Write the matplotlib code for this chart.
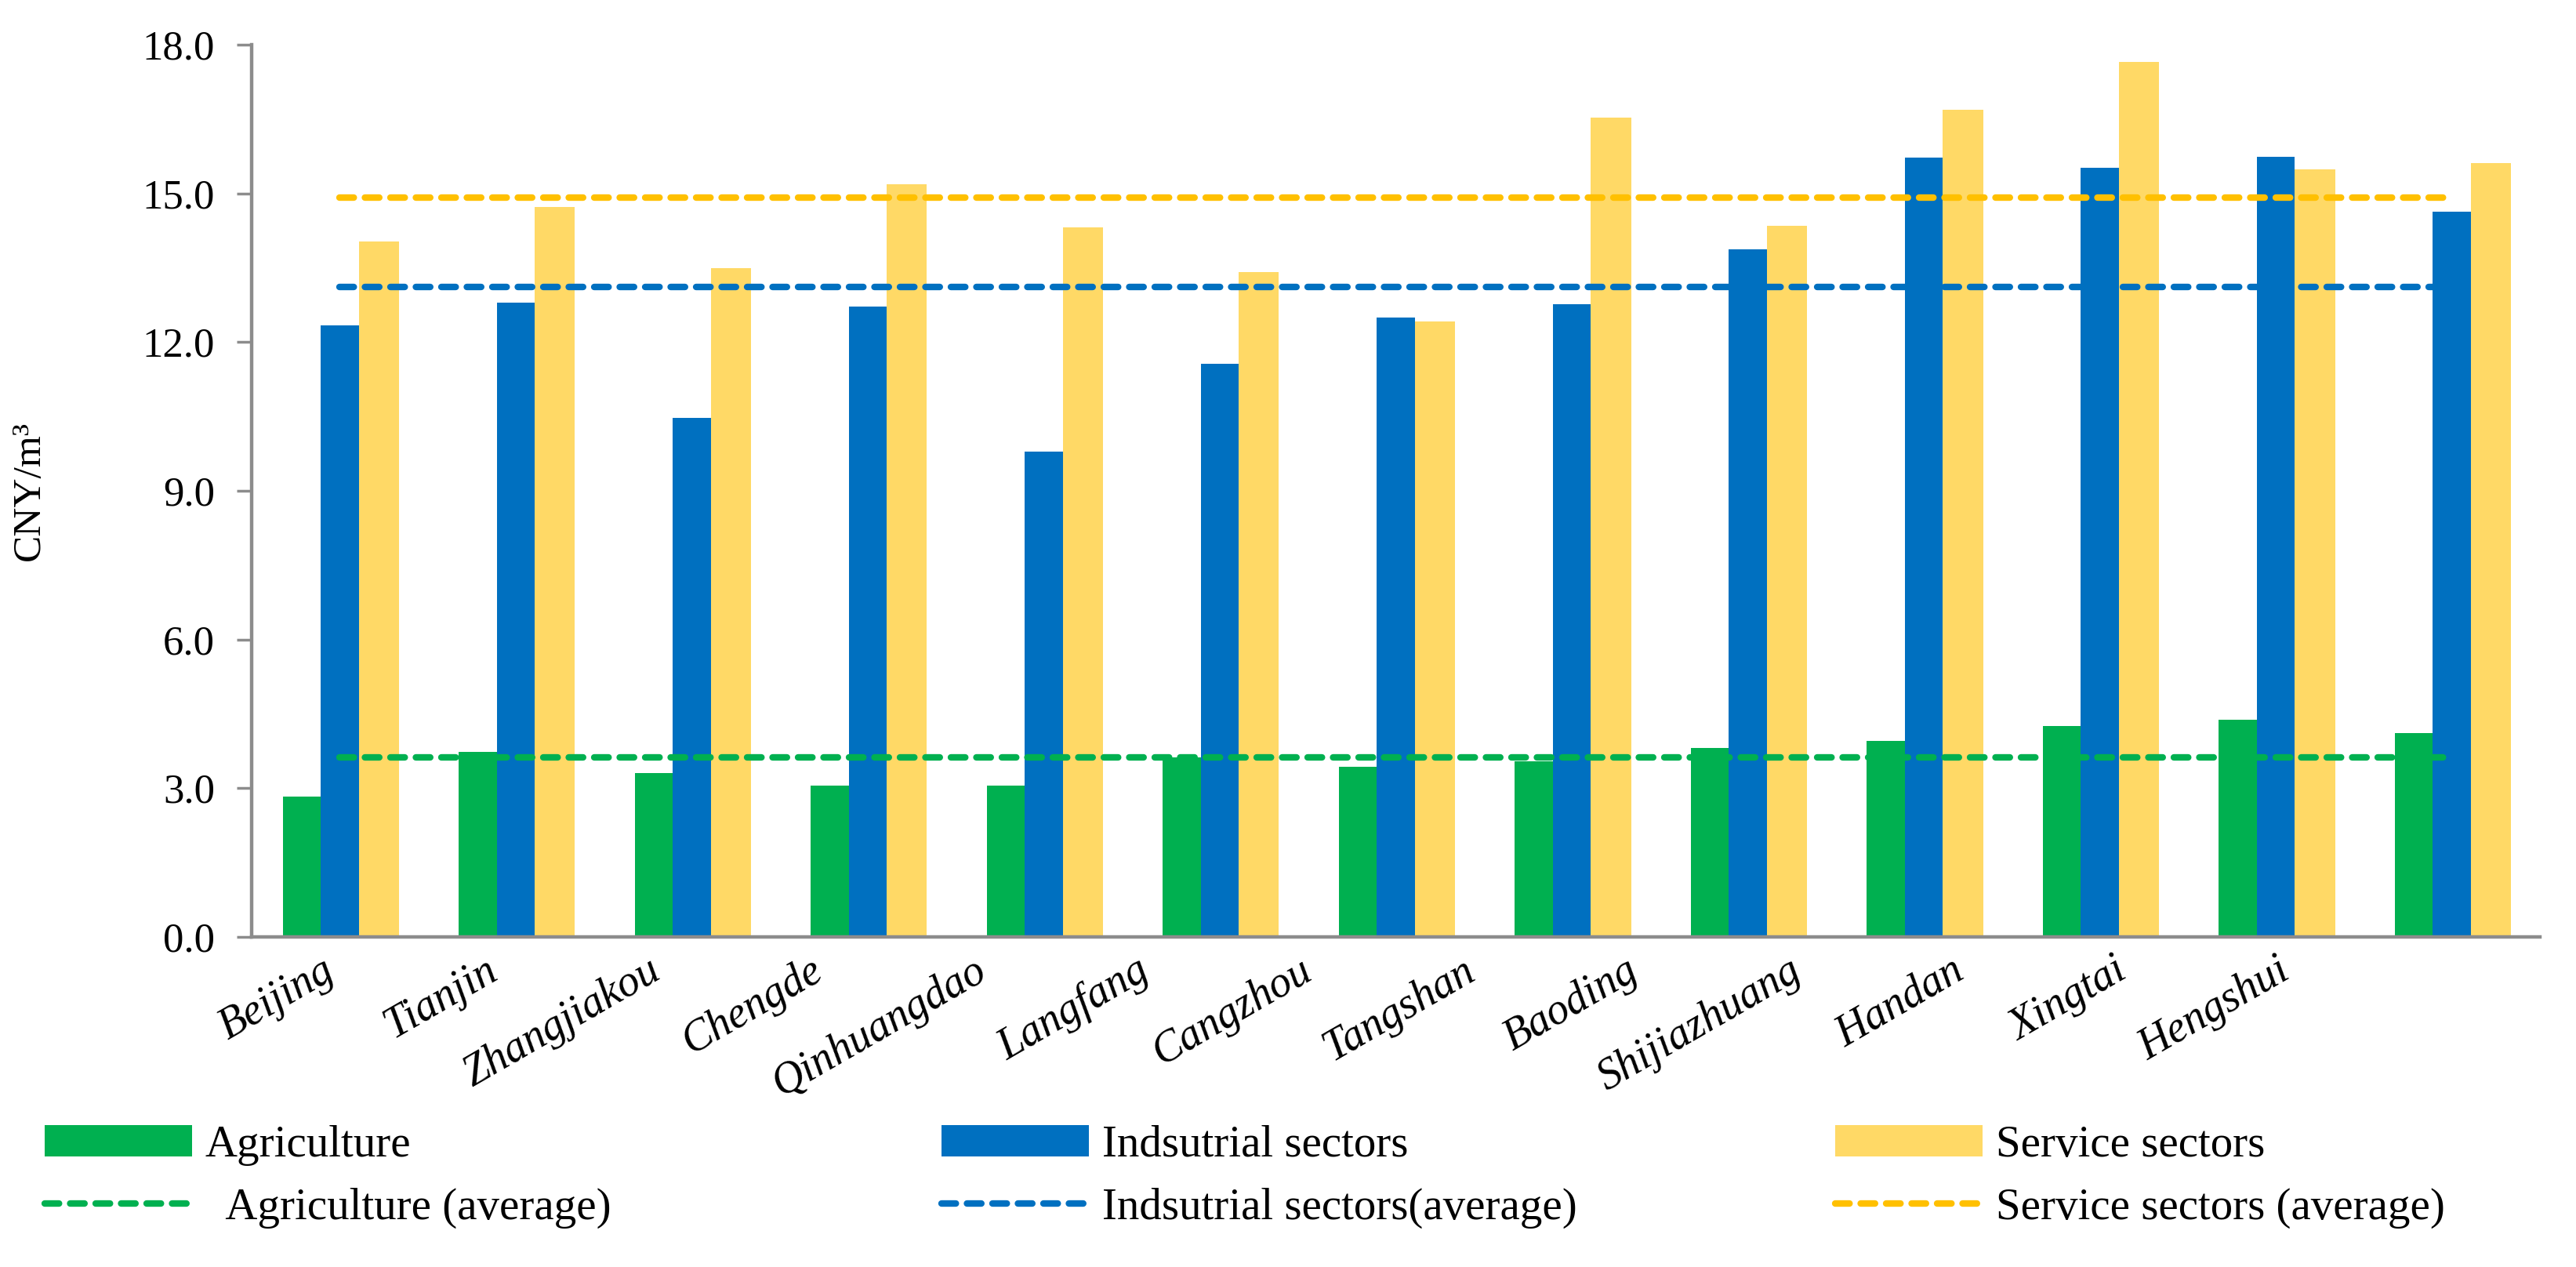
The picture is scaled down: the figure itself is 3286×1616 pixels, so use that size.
import numpy as np
import matplotlib
matplotlib.use("Agg")
import matplotlib.pyplot as plt

# data (CNY per m3)
cities = ["Beijing", "Tianjin", "Zhangjiakou", "Chengde", "Qinhuangdao", "Langfang",
          "Cangzhou", "Tangshan", "Baoding", "Shijiazhuang", "Handan", "Xingtai", "Hengshui"]
agriculture = [2.83, 3.73, 3.30, 3.06, 3.05, 3.63, 3.44, 3.54, 3.82, 3.96, 4.26, 4.38, 4.12]
industrial = [12.34, 12.80, 10.47, 12.72, 9.79, 11.57, 12.49, 12.77, 13.88, 15.72, 15.52, 15.74, 14.63]
service = [14.03, 14.72, 13.50, 15.19, 14.31, 13.42, 12.41, 16.53, 14.34, 16.69, 17.66, 15.48, 15.61]
agri_avg = 3.62
ind_avg = 13.11
serv_avg = 14.91
yticks = [0, 3, 6, 9, 12, 15, 18]

plt.rcParams['font.family'] = ['Liberation Serif', 'DejaVu Serif']

c_green = '#00B050'
c_blue = '#0070C0'
c_gold = '#FFD966'
c_gold_line = '#FFC000'
c_axis = '#8C8C8C'

fig = plt.figure(figsize=(32.87, 16.16), dpi=100)
ax = fig.add_axes([0.0977, 0.2605, 0.888, 0.7042])

x = np.arange(len(cities))
w = 0.216
b1 = ax.bar(x - w, agriculture, w, color=c_green, label="Agriculture", zorder=2)
b2 = ax.bar(x, industrial, w, color=c_blue, label="Indsutrial sectors", zorder=2)
b3 = ax.bar(x + w + 0.006, service, w + 0.012, color=c_gold, label="Service sectors", zorder=2)

dash = (0, (2.2, 1.7))
lw = 6.0
l1, = ax.plot(x, [agri_avg] * len(x), color=c_green, lw=lw, ls=dash, dash_capstyle='round',
              label="  Agriculture (average)", zorder=3)
l2, = ax.plot(x, [ind_avg] * len(x), color=c_blue, lw=lw, ls=dash, dash_capstyle='round',
              label="Indsutrial sectors(average)", zorder=3)
l3, = ax.plot(x, [serv_avg] * len(x), color=c_gold_line, lw=lw, ls=dash, dash_capstyle='round',
              label="Service sectors (average)", zorder=3)

ax.set_xlim(-0.5, len(cities) - 0.5)
ax.set_ylim(0, 18)
ax.set_yticks(yticks)
ax.set_yticklabels(["%.1f" % v for v in yticks], fontsize=38)
ax.tick_params(axis='y', length=14, width=2.5, color=c_axis, pad=20)

# category labels sit slightly left of the bar groups, as in the original
label_pos = -0.107 + 0.926 * x
ax.set_xticks(label_pos)
ax.set_xticklabels(cities, fontsize=40, style='italic', rotation=30,
                   ha='right', va='top', rotation_mode='anchor')
ax.tick_params(axis='x', length=0, pad=12)

for s in ['top', 'right']:
    ax.spines[s].set_visible(False)
for s in ['left', 'bottom']:
    ax.spines[s].set_color(c_axis)
    ax.spines[s].set_linewidth(3.2)

ax.set_ylabel("CNY/m³", fontsize=37)
ax.yaxis.set_label_coords(-0.089, 0.5)

# legend: three columns placed at fixed spots
legend_kw = dict(frameon=False, fontsize=41, handlelength=3.3, handleheight=0.7,
                 handletextpad=0.3, labelspacing=0.5, borderpad=0, borderaxespad=0,
                 loc='center left')
lg1 = fig.legend([b1, l1], ["Agriculture", "  Agriculture (average)"],
                 bbox_to_anchor=(0.0173, 0.0712), **legend_kw)
lg2 = fig.legend([b2, l2], ["Indsutrial sectors", "Indsutrial sectors(average)"],
                 bbox_to_anchor=(0.3654, 0.0712), **legend_kw)
lg3 = fig.legend([b3, l3], ["Service sectors", "Service sectors (average)"],
                 bbox_to_anchor=(0.7122, 0.0712), **legend_kw)

fig.savefig("out.png", dpi=100, facecolor='white')
